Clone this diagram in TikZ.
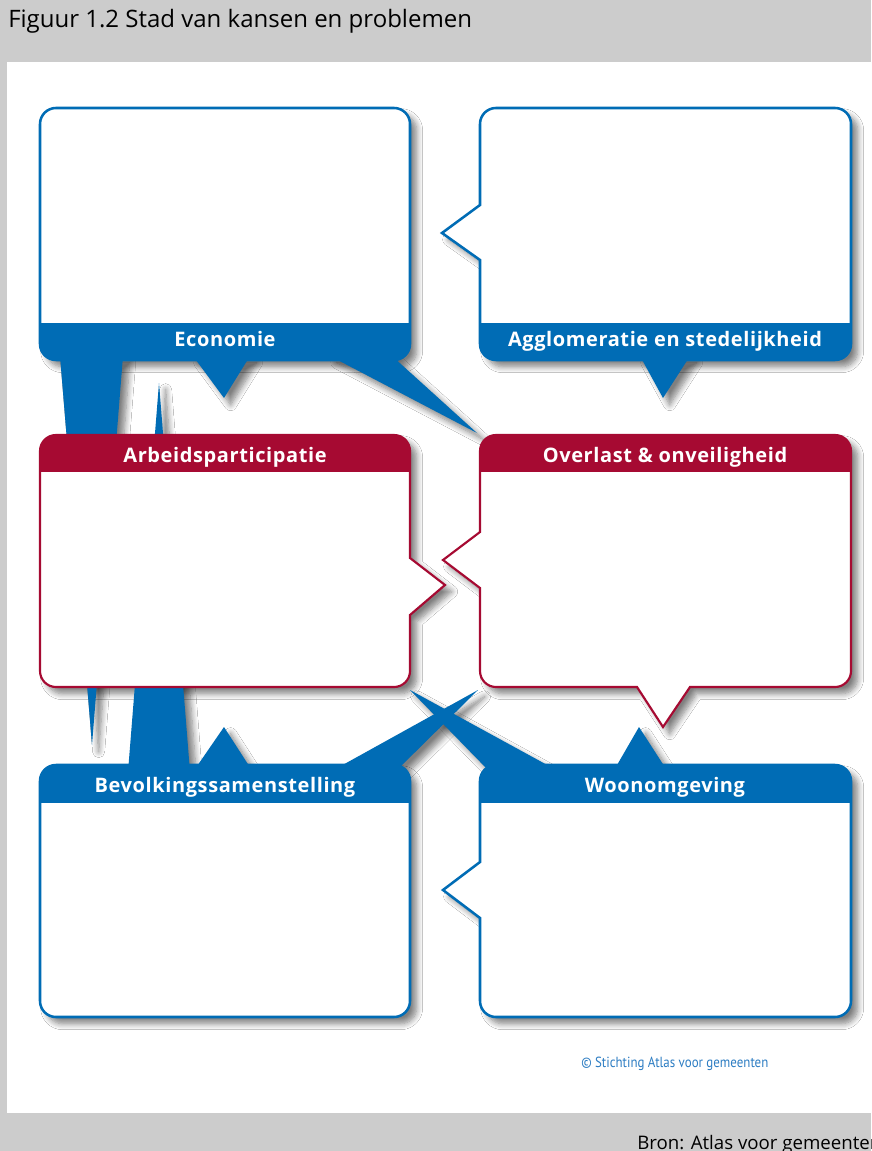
\documentclass[tikz,border=0pt]{standalone}
\usepackage{fontspec}
\usepackage{graphicx}
\newfontfamily\osans{Open Sans}
\newfontfamily\lblfam[LetterSpace=3]{Open Sans}
\newfontfamily\ptsans{PT Sans}
\usetikzlibrary{shadows.blur}
\definecolor{abBlue}{RGB}{0,108,181}
\definecolor{abRed}{RGB}{166,10,50}
\definecolor{bandGrey}{RGB}{204,204,204}
\definecolor{copyBlue}{RGB}{45,125,195}
\tikzset{
  shad/.style={blur shadow={shadow xshift=5pt, shadow yshift=-5pt, shadow blur radius=4.5pt, shadow blur steps=8, shadow opacity=50}},
  bluebox/.style={fill=white, draw=abBlue, line width=1.9pt, line join=miter},
  redbox/.style={fill=white, draw=abRed, line width=1.6pt, line join=miter},
  wedge/.style={fill=abBlue},
  lbl/.style={text=white, font=\lblfam\bfseries\fontsize{15}{17}\selectfont, anchor=base, inner sep=0pt},
  txt/.style={anchor=base west, inner sep=0pt, text=black},
}
% box outlines (pixel coordinates, y downwards)
\def\pEcon{(56,108) -- (394,108) arc[start angle=-90,end angle=0,radius=16] -- (410,344) arc[start angle=0,end angle=90,radius=16] -- (56,360) arc[start angle=90,end angle=180,radius=16] -- (40,124) arc[start angle=180,end angle=270,radius=16] -- cycle}
\def\pAggl{(496,108) -- (835,108) arc[start angle=-90,end angle=0,radius=16] -- (851,344) arc[start angle=0,end angle=90,radius=16] -- (496,360) arc[start angle=90,end angle=180,radius=16] -- (480,260) -- (442,233) -- (480,205) -- (480,124) arc[start angle=180,end angle=270,radius=16] -- cycle}
\def\pArb{(56,435) -- (394,435) arc[start angle=-90,end angle=0,radius=16] -- (410,558) -- (445,585) -- (410,615) -- (410,671) arc[start angle=0,end angle=90,radius=16] -- (56,687) arc[start angle=90,end angle=180,radius=16] -- (40,451) arc[start angle=180,end angle=270,radius=16] -- cycle}
\def\pOver{(496,435) -- (835,435) arc[start angle=-90,end angle=0,radius=16] -- (851,671) arc[start angle=0,end angle=90,radius=16] -- (690,687) -- (663,727) -- (637,687) -- (496,687) arc[start angle=90,end angle=180,radius=16] -- (480,588) -- (443,560) -- (480,532) -- (480,451) arc[start angle=180,end angle=270,radius=16] -- cycle}
\def\pBev{(56,765) -- (394,765) arc[start angle=-90,end angle=0,radius=16] -- (410,1001) arc[start angle=0,end angle=90,radius=16] -- (56,1017) arc[start angle=90,end angle=180,radius=16] -- (40,781) arc[start angle=180,end angle=270,radius=16] -- cycle}
\def\pWoon{(496,765) -- (835,765) arc[start angle=-90,end angle=0,radius=16] -- (851,1001) arc[start angle=0,end angle=90,radius=16] -- (496,1017) arc[start angle=90,end angle=180,radius=16] -- (480,918) -- (443,890) -- (480,862) -- (480,781) arc[start angle=180,end angle=270,radius=16] -- cycle}
% pointer wedges
\def\wEa{(193,356) -- (224,398) -- (250,356) -- cycle}
\def\wEb{(330,356) -- (477,433) -- (392,356) -- cycle}
\def\wEc{(60,356) -- (92,745) -- (123,356) -- cycle}
\def\wAa{(640,356) -- (663,398) -- (690,356) -- cycle}
\def\wBa{(128,772) -- (159,383) -- (190,772) -- cycle}
\def\wBb{(193,772) -- (224,727) -- (253,772) -- cycle}
\def\wBc{(330,772) -- (478,690) -- (395,772) -- cycle}
\def\wWa{(490,772) -- (410,690) -- (560,772) -- cycle}
\def\wWb{(613,772) -- (639,727) -- (668,772) -- cycle}
\begin{document}
\begin{tikzpicture}[x=0.75pt,y=-0.75pt]
\useasboundingbox (0,0) rectangle (871,1151);
\clip (0,0) rectangle (871,1151);
% background
\fill[bandGrey] (0,0) rectangle (871,1151);
\fill[white] (7,62) rectangle (871,1113);
\node[txt, font=\osans\fontsize{18}{21}\selectfont] (title) at (8,28) {Figuur 1.2 Stad van kansen en problemen};
\node[txt, font=\osans\fontsize{14}{17}\selectfont] (bron) at (637,1149) {Bron: Atlas voor gemeenten};
% shadows
\foreach \p in {\pEcon,\pAggl,\pArb,\pOver,\pBev,\pWoon,\wEa,\wEb,\wEc,\wAa,\wBa,\wBb,\wBc,\wWa,\wWb}{
  \path[shad] \p;
}
% top boxes
\path[bluebox] \pEcon;
\begin{scope}\clip \pEcon; \fill[abBlue] (30,323) rectangle (420,370);\end{scope}
\path[bluebox] \pAggl;
\begin{scope}\clip \pAggl; \fill[abBlue] (470,323) rectangle (860,370);\end{scope}
% blue pointers
\foreach \p in {\wEa,\wEb,\wEc,\wAa,\wBa,\wBb,\wBc,\wWa,\wWb}{
  \fill[abBlue] \p;
}
% middle boxes
\path[redbox] \pArb;
\begin{scope}\clip \pArb; \fill[abRed] (30,425) rectangle (460,472);\end{scope}
\path[redbox] \pOver;
\begin{scope}\clip \pOver; \fill[abRed] (470,425) rectangle (860,472);\end{scope}
% bottom boxes
\path[bluebox] \pBev;
\begin{scope}\clip \pBev; \fill[abBlue] (30,755) rectangle (420,803);\end{scope}
\path[bluebox] \pWoon;
\begin{scope}\clip \pWoon; \fill[abBlue] (470,755) rectangle (860,803);\end{scope}
% labels
\node[lbl] (econ) at (225,347) {Economie};
\node[lbl] (aggl) at (665,347) {Agglomeratie en stedelijkheid};
\node[lbl] (arb) at (225,462) {Arbeidsparticipatie};
\node[lbl] (over) at (665,462) {Overlast \& onveiligheid};
\node[lbl] (bev) at (225,792) {Bevolkingssamenstelling};
\node[lbl] (woon) at (665,792) {Woonomgeving};
\node[anchor=base west, inner sep=0pt, text=copyBlue] (copy) at (581,1067) {\scalebox{0.88}[1]{\ptsans\fontsize{11}{13}\selectfont © Stichting Atlas voor gemeenten}};
\end{tikzpicture}
\end{document}
